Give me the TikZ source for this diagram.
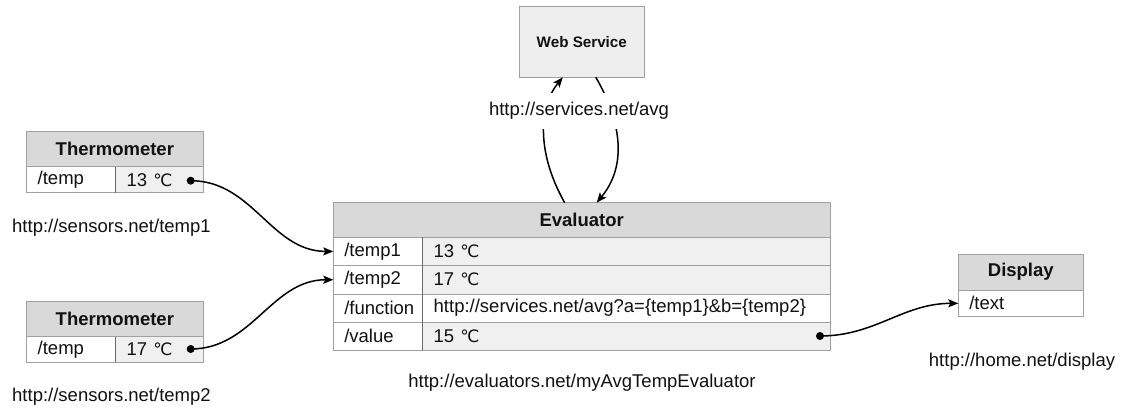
\documentclass[tikz,border=0pt]{standalone}
\usepackage{fontspec}
\setmainfont{Liberation Sans}
\newfontfamily\symf[Scale=0.92]{DejaVu Sans}
\usetikzlibrary{arrows.meta,calc}
\newcommand\degc{{\symf ℃}}
\definecolor{edge}{HTML}{A0A0A0}
\definecolor{sep}{HTML}{6A6A6A}
\definecolor{hdrfill}{HTML}{D9D9D9}
\definecolor{valfill}{HTML}{F0F0F0}
\definecolor{svcfill}{HTML}{EEEEEE}
\definecolor{ink}{HTML}{111111}
\tikzset{
  every node/.style={font=\fontsize{18.5}{22}\selectfont, text=ink},
  box/.style={draw=edge, line width=1pt, inner sep=0pt, outer sep=0pt, anchor=north west},
  hdr/.style 2 args={box, fill=hdrfill, font=\fontsize{18.5}{22}\selectfont\bfseries,
    minimum width=#1, minimum height=#2},
  cellw/.style 2 args={box, fill=white, text width=#1, minimum height=#2,
    inner xsep=11pt, align=left},
  cellg/.style 2 args={cellw={#1}{#2}, fill=valfill},
  colsep/.style={draw=sep, line width=1pt},
  url/.style={inner sep=0pt},
  dot/.style={circle, fill=black, inner sep=0pt, minimum size=8pt},
  conn/.style={line width=1.5pt, -{Stealth[length=10pt,width=8pt,inset=2pt]}},
}
\begin{document}
\begin{tikzpicture}[x=1pt,y=-1pt]
\useasboundingbox (0,0) rectangle (1122,409);

% first thermometer
\node[hdr={176.3pt}{35.5pt}] (t1h) at (26.7,131.5) {Thermometer};
\node[cellw={67pt}{25.5pt}] (t1k) at (26.7,167) {/temp};
\node[cellg={65.3pt}{25.5pt}] (t1v) at (115.7,167) {13 \degc};
\draw[colsep] (t1v.north west) -- (t1v.south west);
\node[url, anchor=west] (t1u) at (12,228) {http://sensors.net/temp1};

% second thermometer
\node[hdr={176.3pt}{35pt}] (t2h) at (26.7,301.5) {Thermometer};
\node[cellw={67pt}{25.5pt}] (t2k) at (26.7,336.5) {/temp};
\node[cellg={65.3pt}{25.5pt}] (t2v) at (115.7,336.5) {17 \degc};
\draw[colsep] (t2v.north west) -- (t2v.south west);
\node[url, anchor=west] (t2u) at (12,397) {http://sensors.net/temp2};

% evaluator
\node[hdr={496.7pt}{34.6pt}] (evh) at (333.3,202.7) {Evaluator};
\node[cellw={67.4pt}{28.2pt}] (e1k) at (333.3,237.3) {/temp1};
\node[cellg={385.3pt}{28.2pt}] (e1v) at (422.7,237.3) {13 \degc};
\node[cellw={67.4pt}{28.5pt}] (e2k) at (333.3,265.5) {/temp2};
\node[cellg={385.3pt}{28.5pt}] (e2v) at (422.7,265.5) {17 \degc};
\node[cellw={67.4pt}{28.3pt}] (e3k) at (333.3,294) {/function};
\node[cellw={385.3pt}{28.3pt}] (e3v) at (422.7,294) {http://services.net/avg?a=\{temp1\}\&b=\{temp2\}};
\node[cellw={67.4pt}{27.7pt}] (e4k) at (333.3,322.3) {/value};
\node[cellg={385.3pt}{27.7pt}] (e4v) at (422.7,322.3) {15 \degc};
\draw[colsep] (e1v.north west) -- (e4v.south west);
\node[url] (evu) at (582,383) {http://evaluators.net/myAvgTempEvaluator};

% display
\node[hdr={125pt}{35.7pt}] (dph) at (958.3,254.3) {Display};
\node[cellw={103pt}{26.7pt}] (dpk) at (958.3,290) {/text};
\node[url] (dpu) at (1022,362) {http://home.net/display};

% web service
\node[box, fill=svcfill, minimum width=125pt, minimum height=70.6pt,
      font=\fontsize{15.2}{18}\selectfont\bfseries] (ws) at (519.3,6.7) {Web Service};

% value outputs
\node[dot] (d1) at (190.7,180.7) {};
\node[dot] (d2) at (190.7,349) {};
\node[dot] (d3) at (820,336) {};

\draw[conn] (d1.center) to[out=0,in=180] (e1k.west);
\draw[conn] (d2.center) to[out=0,in=180] (e2k.west);
\draw[conn] (d3.center) to[out=0,in=180] (dpk.west);

% request and response to the web service
\draw[conn] ([xshift=-17pt]evh.north) .. controls (535,150) and (540,105) .. ([xshift=-19pt]ws.south);
\draw[conn] ([xshift=14pt]ws.south) .. controls (615,110) and (632,160) .. ([xshift=15pt]evh.north);
\node[url, fill=white, inner xsep=3pt, inner ysep=9pt] (wsu) at (579,111) {http://services.net/avg};
\end{tikzpicture}
\end{document}
